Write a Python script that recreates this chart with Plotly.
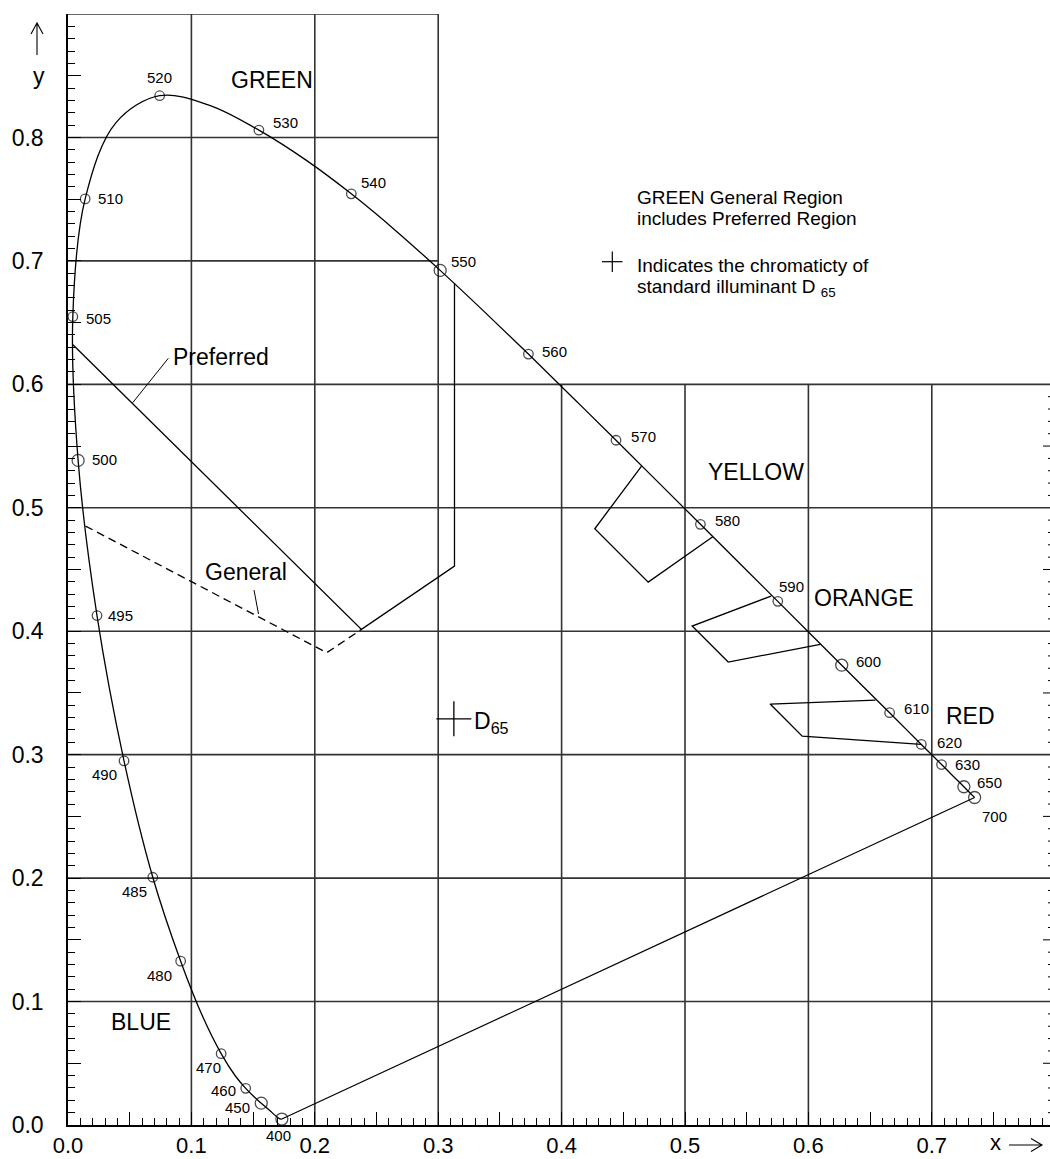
import plotly.graph_objects as go

# ---------------- data ----------------
# CIE 1931 spectral locus (wavelength nm, chromaticity x, y)
wavelengths = [400, 410, 420, 430, 440, 450, 455, 460, 465, 470, 475, 480, 485, 490, 495,
               500, 505, 510, 515, 520, 525, 530, 535, 540, 545, 550, 555, 560, 565, 570,
               575, 580, 585, 590, 595, 600, 605, 610, 615, 620, 625, 630, 635, 640, 645,
               650, 660, 670, 680, 690, 700]
locus_x = [0.1733, 0.1726, 0.1714, 0.1689, 0.1644, 0.1566, 0.1510, 0.1440, 0.1355, 0.1241,
           0.1096, 0.0913, 0.0687, 0.0454, 0.0235, 0.0082, 0.0039, 0.0139, 0.0389, 0.0743,
           0.1142, 0.1547, 0.1929, 0.2296, 0.2658, 0.3016, 0.3373, 0.3731, 0.4087, 0.4441,
           0.4788, 0.5125, 0.5448, 0.5752, 0.6029, 0.6270, 0.6482, 0.6658, 0.6801, 0.6915,
           0.7006, 0.7079, 0.7140, 0.7190, 0.7230, 0.7260, 0.7300, 0.7320, 0.7334, 0.7344,
           0.7347]
locus_y = [0.0048, 0.0048, 0.0051, 0.0069, 0.0109, 0.0177, 0.0227, 0.0297, 0.0399, 0.0578,
           0.0868, 0.1327, 0.2007, 0.2950, 0.4127, 0.5384, 0.6548, 0.7502, 0.8120, 0.8338,
           0.8262, 0.8059, 0.7816, 0.7543, 0.7243, 0.6923, 0.6589, 0.6245, 0.5896, 0.5547,
           0.5202, 0.4866, 0.4544, 0.4242, 0.3965, 0.3725, 0.3514, 0.3340, 0.3197, 0.3083,
           0.2993, 0.2920, 0.2859, 0.2809, 0.2770, 0.2740, 0.2700, 0.2680, 0.2666, 0.2656,
           0.2653]
labelled_wavelengths = [400, 450, 460, 470, 480, 485, 490, 495, 500, 505, 510, 520, 530, 540,
                        550, 560, 570, 580, 590, 600, 610, 620, 630, 650, 700]

# colour-region boundaries (x, y)
preferred_green_x = [0.004, 0.2378, 0.3132, 0.3132]
preferred_green_y = [0.632, 0.4015, 0.4528, 0.682]
general_green_x = [0.0142, 0.2097, 0.2378]
general_green_y = [0.4852, 0.3826, 0.4015]
yellow_x = [0.4648, 0.4269, 0.4702, 0.5225]
yellow_y = [0.5338, 0.4830, 0.4398, 0.4765]
orange_x = [0.5698, 0.5058, 0.5350, 0.6096]
orange_y = [0.4285, 0.4042, 0.3750, 0.3894]
red_x = [0.6544, 0.5690, 0.5950, 0.6915]
red_y = [0.3442, 0.3410, 0.3150, 0.3083]

# standard illuminant D65
d65_x = [0.3127]
d65_y = [0.3290]

# axis ticks
x_tick_vals = [0.0, 0.05, 0.1, 0.15, 0.2, 0.25, 0.3, 0.35, 0.4, 0.45, 0.5, 0.55, 0.6, 0.65, 0.7, 0.75]
x_tick_text = ["0.0", "", "0.1", "", "0.2", "", "0.3", "", "0.4", "", "0.5", "", "0.6", "", "0.7", ""]
y_tick_vals = [0.0, 0.05, 0.1, 0.15, 0.2, 0.25, 0.3, 0.35, 0.4, 0.45, 0.5, 0.55, 0.6, 0.65, 0.7, 0.75, 0.8, 0.85]
y_tick_text = ["0.0", "", "0.1", "", "0.2", "", "0.3", "", "0.4", "", "0.5", "", "0.6", "", "0.7", "", "0.8", ""]
right_major_ticks = [0.05, 0.15, 0.25, 0.35, 0.45, 0.55]
right_minor_ticks = [round(0.01 * k, 2) for k in range(1, 60) if k % 5 != 0]

# grid layout (stepped frame)
grid_x_tall = [0.1, 0.2, 0.3]          # run up to 0.9
grid_x_short = [0.4, 0.5, 0.6, 0.7]    # run up to 0.6
grid_y_full = [0.1, 0.2, 0.3, 0.4, 0.5, 0.6]
grid_y_short = [0.7, 0.8, 0.9]         # run to x = 0.3

# ---------------- layout geometry / styles ----------------
W, H = 1050, 1159
ML, MR, MT, MB = 68, 0, 14, 34
PW, PH = W - ML - MR, H - MT - MB
X_UNIT = 1234.0
X_MAX = PW / X_UNIT
Y_MAX = 0.9
FONT = "Liberation Sans, Arial, sans-serif"
INK = "black"
GRID = "#333333"


def px(xp):
    return (xp - ML) / PW


def py(yp):
    return (H - MB - yp) / PH


# label placement: anchor, dx, dy (screen px, dy down positive)
LABEL_STYLE = {
    400: ("center", -3, 16), 450: ("right", -10, 4), 460: ("right", -9, 2),
    470: ("right", 1, 14), 480: ("right", -8, 14), 485: ("right", -5, 14),
    490: ("right", -6, 14), 495: ("left", 10, 0), 500: ("left", 13, -1),
    505: ("left", 12, 2), 510: ("left", 12, 0), 520: ("center", 0, -18),
    530: ("left", 13, -8), 540: ("left", 9, -11), 550: ("left", 10, -9),
    560: ("left", 13, -3), 570: ("left", 14, -3.5), 580: ("left", 14, -3.5),
    590: ("left", 0, -15), 600: ("left", 13, -4), 610: ("left", 13, -4),
    620: ("left", 15, -2), 630: ("left", 12, 0), 650: ("left", 12, -4),
    700: ("left", 6, 19),
}

fig = go.Figure()

# spectral locus
fig.add_trace(go.Scatter(x=locus_x, y=locus_y, mode="lines",
                         line=dict(color=INK, width=1.3, shape="spline", smoothing=1.0),
                         hoverinfo="skip", showlegend=False))
# purple line 400 -> 700
i400, i700 = wavelengths.index(400), wavelengths.index(700)
fig.add_trace(go.Scatter(x=[locus_x[i400], locus_x[i700]], y=[locus_y[i400], locus_y[i700]],
                         mode="lines", line=dict(color=INK, width=1.2),
                         hoverinfo="skip", showlegend=False))

# markers on labelled wavelengths
idx = [wavelengths.index(w) for w in labelled_wavelengths]
mx = [locus_x[i] for i in idx]
my = [locus_y[i] for i in idx]
msize = [12 if w % 50 == 0 else 9.5 for w in labelled_wavelengths]
fig.add_trace(go.Scatter(x=mx, y=my, mode="markers",
                         marker=dict(symbol="circle-open", size=msize, color=INK,
                                     line=dict(width=1.3, color=INK)),
                         hoverinfo="skip", showlegend=False))

# region boundaries
for rx, ry, dash in [(preferred_green_x, preferred_green_y, "solid"),
                     (general_green_x, general_green_y, "8px,5px"),
                     (yellow_x, yellow_y, "solid"),
                     (orange_x, orange_y, "solid"),
                     (red_x, red_y, "solid")]:
    fig.add_trace(go.Scatter(x=rx, y=ry, mode="lines",
                             line=dict(color=INK, width=1.3, dash=dash),
                             hoverinfo="skip", showlegend=False))

# D65 point
fig.add_trace(go.Scatter(x=d65_x, y=d65_y, mode="markers",
                         marker=dict(symbol="cross-thin", size=25, color=INK,
                                     line=dict(width=1.3, color=INK)),
                         hoverinfo="skip", showlegend=False))

# ---------------- grid (stepped frame) ----------------
shapes = []
gline = dict(color=GRID, width=1.6)
for gx in grid_x_tall:
    shapes.append(dict(type="line", xref="x", yref="y", x0=gx, x1=gx, y0=0, y1=Y_MAX,
                       line=gline, layer="below"))
for gx in grid_x_short:
    shapes.append(dict(type="line", xref="x", yref="y", x0=gx, x1=gx, y0=0, y1=0.6,
                       line=gline, layer="below"))
for gy in grid_y_full:
    shapes.append(dict(type="line", xref="paper", yref="y", x0=0, x1=1, y0=gy, y1=gy,
                       line=gline, layer="below"))
for gy in grid_y_short:
    shapes.append(dict(type="line", xref="x", yref="y", x0=0, x1=0.3, y0=gy, y1=gy,
                       line=gline, layer="below"))

# right-hand ticks of the lower frame (frame edge lies just past the window)
for t in right_major_ticks:
    shapes.append(dict(type="line", xref="paper", yref="y", x0=1 - 7 / PW, x1=1, y0=t, y1=t,
                       line=dict(color=INK, width=1)))
for t in right_minor_ticks:
    shapes.append(dict(type="line", xref="paper", yref="y", x0=1 - 2 / PW, x1=1, y0=t, y1=t,
                       line=dict(color=INK, width=1)))

# leader lines
for (a, b, c, d) in [(168.3, 358.3, 132.7, 402.7), (254, 590, 258.5, 614)]:
    shapes.append(dict(type="line", xref="paper", yref="paper", x0=px(a), y0=py(b),
                       x1=px(c), y1=py(d), line=dict(color=INK, width=1)))

# key cross for the note
shapes.append(dict(type="line", xref="paper", yref="paper", x0=px(602), x1=px(622.5),
                   y0=py(261.7), y1=py(261.7), line=dict(color=INK, width=1.2)))
shapes.append(dict(type="line", xref="paper", yref="paper", x0=px(612.3), x1=px(612.3),
                   y0=py(251.5), y1=py(272), line=dict(color=INK, width=1.2)))


def arrow_path(pts_list):
    s = ""
    for pts in pts_list:
        s += "M " + " L ".join(f"{px(a):.5f},{py(b):.5f}" for a, b in pts) + " "
    return s.strip()


# axis arrows
shapes.append(dict(type="path", xref="paper", yref="paper",
                   path=arrow_path([[(1009, 1145), (1042, 1145)],
                                    [(1031, 1138.5), (1042, 1145), (1031, 1151.5)]]),
                   line=dict(color=INK, width=1.1)))
shapes.append(dict(type="path", xref="paper", yref="paper",
                   path=arrow_path([[(37, 55), (37, 23)],
                                    [(31, 34), (37, 23), (43, 34)]]),
                   line=dict(color=INK, width=1.1)))

# ---------------- annotations ----------------
ann = []
for w in labelled_wavelengths:
    i = wavelengths.index(w)
    anchor, dx, dy = LABEL_STYLE[w]
    ann.append(dict(x=locus_x[i], y=locus_y[i], xref="x", yref="y", text=str(w),
                    showarrow=False, xanchor=anchor, yanchor="middle",
                    xshift=dx, yshift=-dy, borderpad=0,
                    font=dict(family=FONT, size=15, color=INK)))


def txt(text, xpx, ypx, size, anchor="left"):
    return dict(x=px(xpx), y=py(ypx), xref="paper", yref="paper", text=text,
                showarrow=False, xanchor=anchor, yanchor="middle", borderpad=0,
                font=dict(family=FONT, size=size, color=INK))


ann += [
    txt("GREEN", 230, 80, 23),
    txt("YELLOW", 707, 472, 23),
    txt("ORANGE", 813, 598, 23),
    txt("RED", 945, 715.5, 23),
    txt("BLUE", 110, 1022, 23),
    txt("Preferred", 172, 357, 23),
    txt("General", 204, 572, 23),
    txt("D<sub>65</sub>", 473, 722, 23),
    txt("GREEN General Region", 636, 197, 19),
    txt("includes Preferred Region", 636, 218, 19),
    txt("Indicates the chromaticty of", 636, 265, 19),
    txt("standard illuminant D <sub>65</sub>", 636, 288, 19),
    txt("y", 39, 76, 23, "center"),
    txt("x", 995, 1143, 22, "center"),
]

fig.update_layout(
    width=W, height=H,
    margin=dict(l=ML, r=MR, t=MT, b=MB, autoexpand=False),
    paper_bgcolor="white", plot_bgcolor="white",
    showlegend=False,
    shapes=shapes,
    annotations=ann,
    xaxis=dict(range=[0, X_MAX], showgrid=False, zeroline=False, automargin=False,
               showline=True, linecolor=INK, linewidth=1.5,
               tickmode="array", tickvals=x_tick_vals, ticktext=x_tick_text,
               ticks="inside", ticklen=13, tickwidth=1, tickcolor=INK,
               ticklabelstandoff=0,
               minor=dict(tickmode="linear", tick0=0, dtick=0.01, ticks="inside",
                          ticklen=7, tickwidth=1, tickcolor=INK, showgrid=False),
               tickfont=dict(family=FONT, size=22, color=INK)),
    yaxis=dict(range=[0, Y_MAX], showgrid=False, zeroline=False, automargin=False,
               showline=True, linecolor=INK, linewidth=1.5,
               tickmode="array", tickvals=y_tick_vals, ticktext=y_tick_text,
               ticks="inside", ticklen=13, tickwidth=1, tickcolor=INK,
               ticklabelstandoff=18,
               minor=dict(tickmode="linear", tick0=0, dtick=0.01, ticks="inside",
                          ticklen=7, tickwidth=1, tickcolor=INK, showgrid=False),
               tickfont=dict(family=FONT, size=23, color=INK)),
)

fig.write_html("out.html", config={"displayModeBar": False},
               post_script="document.body.style.margin='0px';document.body.style.overflow='hidden';")
